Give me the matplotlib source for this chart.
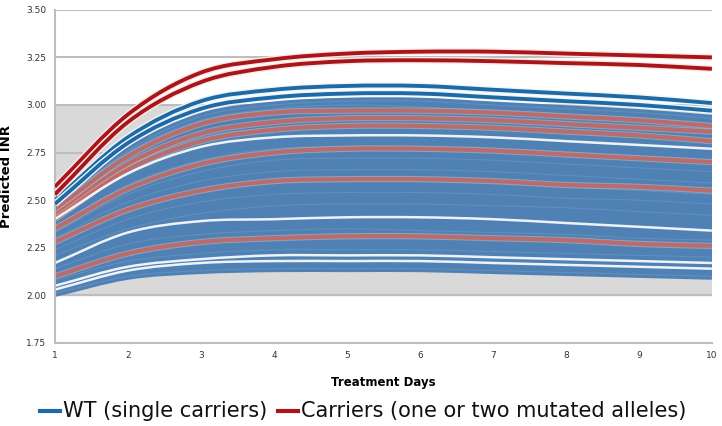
import matplotlib.pyplot as plt
import matplotlib.patheffects as pe
from matplotlib.lines import Line2D
from matplotlib.path import Path
from matplotlib.patches import PathPatch

days = [1, 2, 3, 4, 5, 6, 7, 8, 9, 10]

# WT patients, top to bottom
wt_curves = [
    [2.50, 2.83, 3.02, 3.08, 3.10, 3.10, 3.08, 3.06, 3.04, 3.01],
    [2.48, 2.80, 2.98, 3.04, 3.06, 3.06, 3.04, 3.02, 3.00, 2.97],
    [2.46, 2.76, 2.94, 3.00, 3.02, 3.02, 3.00, 2.98, 2.96, 2.93],
    [2.45, 2.75, 2.92, 2.98, 3.00, 2.99, 2.97, 2.95, 2.93, 2.90],
    [2.42, 2.68, 2.83, 2.88, 2.90, 2.90, 2.88, 2.86, 2.84, 2.82],
    [2.40, 2.64, 2.78, 2.83, 2.84, 2.84, 2.83, 2.81, 2.79, 2.77],
    [2.36, 2.58, 2.71, 2.77, 2.78, 2.78, 2.77, 2.75, 2.73, 2.71],
    [2.33, 2.53, 2.65, 2.71, 2.72, 2.72, 2.71, 2.69, 2.67, 2.65],
    [2.30, 2.49, 2.60, 2.65, 2.66, 2.66, 2.65, 2.63, 2.61, 2.59],
    [2.27, 2.44, 2.54, 2.59, 2.60, 2.60, 2.59, 2.57, 2.55, 2.53],
    [2.24, 2.40, 2.49, 2.53, 2.54, 2.54, 2.53, 2.51, 2.50, 2.48],
    [2.21, 2.35, 2.43, 2.47, 2.48, 2.48, 2.47, 2.46, 2.44, 2.42],
    [2.17, 2.33, 2.39, 2.40, 2.41, 2.41, 2.40, 2.38, 2.36, 2.34],
    [2.14, 2.27, 2.32, 2.34, 2.35, 2.34, 2.33, 2.32, 2.30, 2.29],
    [2.08, 2.18, 2.22, 2.24, 2.24, 2.24, 2.23, 2.22, 2.21, 2.20],
    [2.05, 2.15, 2.19, 2.21, 2.21, 2.21, 2.20, 2.19, 2.18, 2.17],
    [2.03, 2.13, 2.17, 2.18, 2.18, 2.18, 2.17, 2.16, 2.15, 2.14],
    [2.01, 2.10, 2.13, 2.14, 2.14, 2.14, 2.13, 2.12, 2.11, 2.10],
]
# curves drawn with a white edge
wt_outlined = [0, 1, 5, 12, 15, 16]

# carriers, top to bottom
carrier_curves = [
    [2.57, 2.95, 3.17, 3.24, 3.27, 3.28, 3.28, 3.27, 3.26, 3.25],
    [2.53, 2.91, 3.12, 3.20, 3.23, 3.235, 3.23, 3.22, 3.21, 3.19],
    [2.45, 2.73, 2.90, 2.96, 2.97, 2.97, 2.96, 2.94, 2.92, 2.89],
    [2.42, 2.69, 2.85, 2.91, 2.93, 2.93, 2.92, 2.90, 2.88, 2.86],
    [2.40, 2.66, 2.81, 2.87, 2.89, 2.89, 2.88, 2.86, 2.84, 2.81],
    [2.35, 2.56, 2.69, 2.75, 2.77, 2.77, 2.76, 2.74, 2.72, 2.70],
    [2.28, 2.45, 2.55, 2.60, 2.61, 2.61, 2.60, 2.58, 2.57, 2.55],
    [2.10, 2.22, 2.28, 2.30, 2.31, 2.31, 2.30, 2.29, 2.27, 2.26],
]

yticks = [1.75, 2.00, 2.25, 2.50, 2.75, 3.00, 3.25, 3.50]

blue_fill = "#4f81b4"
blue_dark = "#1f6aa5"
red_soft = "#c0615a"
red_dark = "#a8161c"


def smooth_path(xs, ys, closed_back=None):
    # Catmull-Rom segments as cubic Bezier (like "smoothed line" in spreadsheets)
    n = len(xs)
    verts = [(xs[0], ys[0])]
    codes = [Path.MOVETO]
    for i in range(n - 1):
        if i > 0:
            x0, y0 = xs[i - 1], ys[i - 1]
        else:
            x0, y0 = 2 * xs[0] - xs[1], 2 * ys[0] - ys[1]
        x1, y1 = xs[i], ys[i]
        x2, y2 = xs[i + 1], ys[i + 1]
        if i + 2 < n:
            x3, y3 = xs[i + 2], ys[i + 2]
        else:
            x3, y3 = 2 * x2 - x1, 2 * y2 - y1
        verts += [(x1 + (x2 - x0) / 6, y1 + (y2 - y0) / 6),
                  (x2 - (x3 - x1) / 6, y2 - (y3 - y1) / 6),
                  (x2, y2)]
        codes += [Path.CURVE4] * 3
    if closed_back is not None:
        back = smooth_path(xs[::-1], closed_back[::-1])
        verts += [tuple(v) for v in back.vertices]
        codes += [Path.LINETO] + list(back.codes[1:])
        verts.append(verts[0])
        codes.append(Path.CLOSEPOLY)
    return Path(verts, codes)


def curve(ax, ys, **kw):
    patch = PathPatch(smooth_path(days, ys), fill=False, **kw)
    ax.add_patch(patch)
    return patch


fig = plt.figure(figsize=(7.22, 4.26), dpi=100)
ax = fig.add_axes([0.076, 0.195, 0.910, 0.782])

ax.axhspan(2.0, 3.0, color="#d9d9d9", zorder=0)
for y in yticks:
    ax.axhline(y, color="#bdbdbd", lw=1.5, zorder=0.5)

# body of the WT band
band = PathPatch(smooth_path(days, wt_curves[3], closed_back=wt_curves[-1]),
                 facecolor=blue_fill, edgecolor=blue_fill, lw=1, zorder=1)
ax.add_patch(band)
for c in wt_curves[2:]:
    curve(ax, c, edgecolor=blue_fill, lw=5, zorder=1.5, capstyle="butt")
    curve(ax, c, edgecolor="#6d97c4", lw=0.8, alpha=0.6, zorder=1.6)

for c in carrier_curves[2:]:
    curve(ax, c, edgecolor=red_soft, lw=3, alpha=0.8, zorder=2, capstyle="butt",
          path_effects=[pe.Stroke(linewidth=4.5, foreground="#e9c3bd", alpha=0.45), pe.Normal()])

for i in wt_outlined:
    c = wt_curves[i]
    if i < 2:
        curve(ax, c, edgecolor=blue_dark, lw=2.8, zorder=3, capstyle="butt",
              path_effects=[pe.Stroke(linewidth=4.8, foreground="#eef6fb"), pe.Normal()])
    else:
        curve(ax, c, edgecolor="white", lw=1.8, alpha=0.9, zorder=2.5)

for c in carrier_curves[:2]:
    curve(ax, c, edgecolor=red_dark, lw=2.8, zorder=4, capstyle="butt",
          path_effects=[pe.Stroke(linewidth=4.8, foreground="#fde8e4"), pe.Normal()])

ax.set_xlim(1, 10)
ax.set_ylim(1.75, 3.5)
ax.set_xticks(days)
ax.set_yticks(yticks)
ax.set_yticklabels([f"{v:.2f}" for v in yticks])
ax.tick_params(length=0, labelsize=6.5, colors="#333333", pad=6)
for s in ["top", "right"]:
    ax.spines[s].set_visible(False)
for s in ["left", "bottom"]:
    ax.spines[s].set_color("#bdbdbd")
    ax.spines[s].set_linewidth(1.5)

ax.set_xlabel("Treatment Days", fontsize=8.5, fontweight="bold", labelpad=11)
ax.set_ylabel("Predicted INR", fontsize=9.5, fontweight="bold", labelpad=10)

# legend row under the chart
W, H = 722, 426
ly = 1 - 411 / H
for x0, color, label in [(40, blue_dark, "WT (single carriers)"),
                         (278, red_dark, "Carriers (one or two mutated alleles)")]:
    fig.add_artist(Line2D([x0 / W, (x0 + 20) / W], [ly, ly], color=color, lw=3,
                          transform=fig.transFigure))
    fig.text((x0 + 23) / W, ly, label, fontsize=15, va="center", ha="left",
             color="#111111")

fig.savefig("out.png", dpi=100)
